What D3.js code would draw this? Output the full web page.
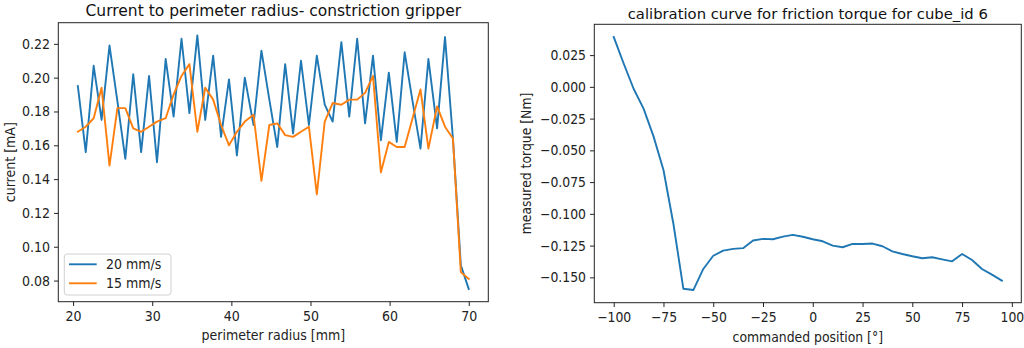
<!DOCTYPE html>
<html>
<head>
<meta charset="utf-8">
<script src="https://cdn.jsdelivr.net/npm/d3@7"></script>
<style>
  html, body { margin: 0; padding: 0; background: #fff; }
  svg { display: block; font-family: "DejaVu Sans", sans-serif; }
</style>
</head>
<body>
<svg id="chart" width="1024" height="348"></svg>
<script>
// ---------- Left panel data ----------
const radius = [20.6,21.6,22.6,23.6,24.6,25.6,26.6,27.6,28.6,29.6,30.6,31.7,32.7,33.7,34.7,35.7,36.7,37.7,38.7,39.7,40.7,41.7,42.8,43.8,44.8,45.8,46.8,47.8,48.8,49.8,50.8,51.8,52.8,53.9,54.9,55.9,56.9,57.9,58.9,59.9,60.9,61.9,62.9,63.9,64.9,66.0,67.0,68.0,69.0,70.0];
const current20 = [0.195,0.156,0.207,0.175,0.219,0.186,0.152,0.202,0.156,0.201,0.150,0.211,0.177,0.223,0.179,0.225,0.175,0.213,0.165,0.199,0.154,0.200,0.172,0.216,0.187,0.159,0.208,0.167,0.210,0.172,0.213,0.184,0.174,0.221,0.177,0.223,0.173,0.213,0.163,0.203,0.162,0.215,0.186,0.158,0.211,0.170,0.224,0.164,0.089,0.075];
const current15 = [0.168,0.171,0.176,0.194,0.148,0.182,0.182,0.170,0.168,0.171,0.174,0.176,0.190,0.201,0.208,0.168,0.194,0.187,0.172,0.160,0.168,0.174,0.178,0.139,0.172,0.173,0.166,0.165,0.168,0.171,0.131,0.174,0.185,0.184,0.187,0.187,0.191,0.201,0.144,0.162,0.159,0.159,0.176,0.193,0.158,0.183,0.171,0.164,0.085,0.081];
const leftXTicks = [20,30,40,50,60,70];
const leftYTicks = [0.08,0.10,0.12,0.14,0.16,0.18,0.20,0.22];
const legendLabels = ["20 mm/s","15 mm/s"];

// ---------- Right panel data ----------
const position = [-100,-95,-90,-85,-80,-75,-70,-65,-60,-55,-50,-45,-40,-35,-30,-25,-20,-15,-10,-5,0,5,10,15,20,25,30,35,40,45,50,55,60,65,70,75,80,85,90,95];
const torque = [0.0393,0.0184,-0.0015,-0.0171,-0.0390,-0.0655,-0.1080,-0.1590,-0.1600,-0.1434,-0.1330,-0.1290,-0.1276,-0.1270,-0.1210,-0.1197,-0.1200,-0.1179,-0.1166,-0.1180,-0.1200,-0.1216,-0.1250,-0.1263,-0.1237,-0.1237,-0.1234,-0.1255,-0.1295,-0.1316,-0.1334,-0.1350,-0.1342,-0.1358,-0.1374,-0.1316,-0.1363,-0.1434,-0.1479,-0.1526];
const rightXTicks = [-100,-75,-50,-25,0,25,50,75,100];
const rightYTicks = [0.025,0.000,-0.025,-0.050,-0.075,-0.100,-0.125,-0.150];

const BLUE = "#1f77b4", ORANGE = "#ff7f0e";
const svg = d3.select("#chart");
const COND = "'DejaVu Sans Condensed', 'DejaVu Sans', sans-serif";

function pad(ext) { const r = ext[1]-ext[0]; return [ext[0]-0.05*r, ext[1]+0.05*r]; }
const minus = s => s.replace(/-/g, "\u2212");

function panel(o) {
  const x = d3.scaleLinear().domain(pad(d3.extent(o.xs))).range([o.left, o.right]);
  const allY = o.series.flatMap(s => s.ys);
  const y = d3.scaleLinear().domain(pad(d3.extent(allY))).range([o.bottom, o.top]);
  const g = svg.append("g");

  // axes
  const xAxis = d3.axisBottom(x).tickValues(o.xTicks).tickSize(4.3).tickPadding(5.5).tickFormat(o.xFmt);
  const yAxis = d3.axisLeft(y).tickValues(o.yTicks).tickSize(4.3).tickPadding(4).tickFormat(o.yFmt);
  const gx = g.append("g").attr("transform", `translate(0,${o.bottom})`).call(xAxis);
  const gy = g.append("g").attr("transform", `translate(${o.left},0)`).call(yAxis);
  [gx, gy].forEach(a => {
    a.select(".domain").remove();
    a.selectAll(".tick line").attr("stroke", "#222").attr("stroke-width", 1);
    a.selectAll(".tick text").attr("fill", "#222").style("font-size", o.fs + "px")
      .style("font-family", COND);
  });

  // lines
  o.series.forEach(s => {
    const line = d3.line().x((d, i) => x(o.xs[i])).y(d => y(d));
    g.append("path").datum(s.ys).attr("d", line).attr("fill", "none")
      .attr("stroke", s.color).attr("stroke-width", 1.9).attr("stroke-linejoin", "round").attr("stroke-linecap", "square");
  });

  // frame
  g.append("rect").attr("x", o.left).attr("y", o.top).attr("width", o.right - o.left).attr("height", o.bottom - o.top)
    .attr("fill", "none").attr("stroke", "#222").attr("stroke-width", 1);

  // title & labels
  g.append("text").attr("x", (o.left + o.right) / 2).attr("y", o.titleY).attr("text-anchor", "middle")
    .attr("dominant-baseline", "central").style("font-size", o.titleFs + "px").attr("fill", "#111").text(o.title);
  g.append("text").attr("x", (o.left + o.right) / 2).attr("y", o.xLabelY).attr("text-anchor", "middle")
    .attr("dominant-baseline", "central").style("font-size", o.fs + "px").style("font-family", COND)
    .attr("fill", "#222").text(o.xLabel);
  g.append("text").attr("transform", `translate(${o.yLabelX},${(o.top + o.bottom) / 2}) rotate(-90)`)
    .attr("text-anchor", "middle").attr("dominant-baseline", "central").style("font-size", o.fs + "px")
    .style("font-family", COND).attr("fill", "#222").text(o.yLabel);
  return { g, x, y };
}

const L = panel({
  left: 58.3, right: 488.3, top: 22.7, bottom: 301.7,
  xs: radius,
  series: [{ ys: current20, color: BLUE }, { ys: current15, color: ORANGE }],
  xTicks: leftXTicks, yTicks: leftYTicks,
  xFmt: d3.format("d"), yFmt: d3.format(".2f"),
  fs: 14, titleFs: 15.5,
  title: "Current to perimeter radius- constriction gripper", titleY: 10.5,
  xLabel: "perimeter radius [mm]", xLabelY: 335,
  yLabel: "current [mA]", yLabelX: 9.5
});

const R = panel({
  left: 594.3, right: 1021.3, top: 24.3, bottom: 302.7,
  xs: position,
  series: [{ ys: torque, color: BLUE }],
  xTicks: rightXTicks, yTicks: rightYTicks,
  xFmt: d => minus(d3.format("d")(d)), yFmt: d => minus(d3.format(".3f")(d)),
  fs: 13.8, titleFs: 14.8,
  title: "calibration curve for friction torque for cube_id 6", titleY: 13,
  xLabel: "commanded position [°]", xLabelY: 336.5,
  yLabel: "measured torque [Nm]", yLabelX: 525.5
});

// legend (left panel)
const lg = svg.append("g");
lg.append("rect").attr("x", 64.3).attr("y", 254).attr("width", 106.7).attr("height", 41).attr("rx", 3)
  .attr("fill", "#fff").attr("fill-opacity", 0.8).attr("stroke", "#d0d0d0").attr("stroke-width", 1);
[BLUE, ORANGE].forEach((c, i) => {
  const yy = 264.3 + i * 19;
  lg.append("line").attr("x1", 69).attr("x2", 96.7).attr("y1", yy).attr("y2", yy)
    .attr("stroke", c).attr("stroke-width", 1.9);
  lg.append("text").attr("x", 106).attr("y", yy).attr("dominant-baseline", "central")
    .style("font-size", "14px").style("font-family", COND).attr("fill", "#222").text(legendLabels[i]);
});
</script>
</body>
</html>
